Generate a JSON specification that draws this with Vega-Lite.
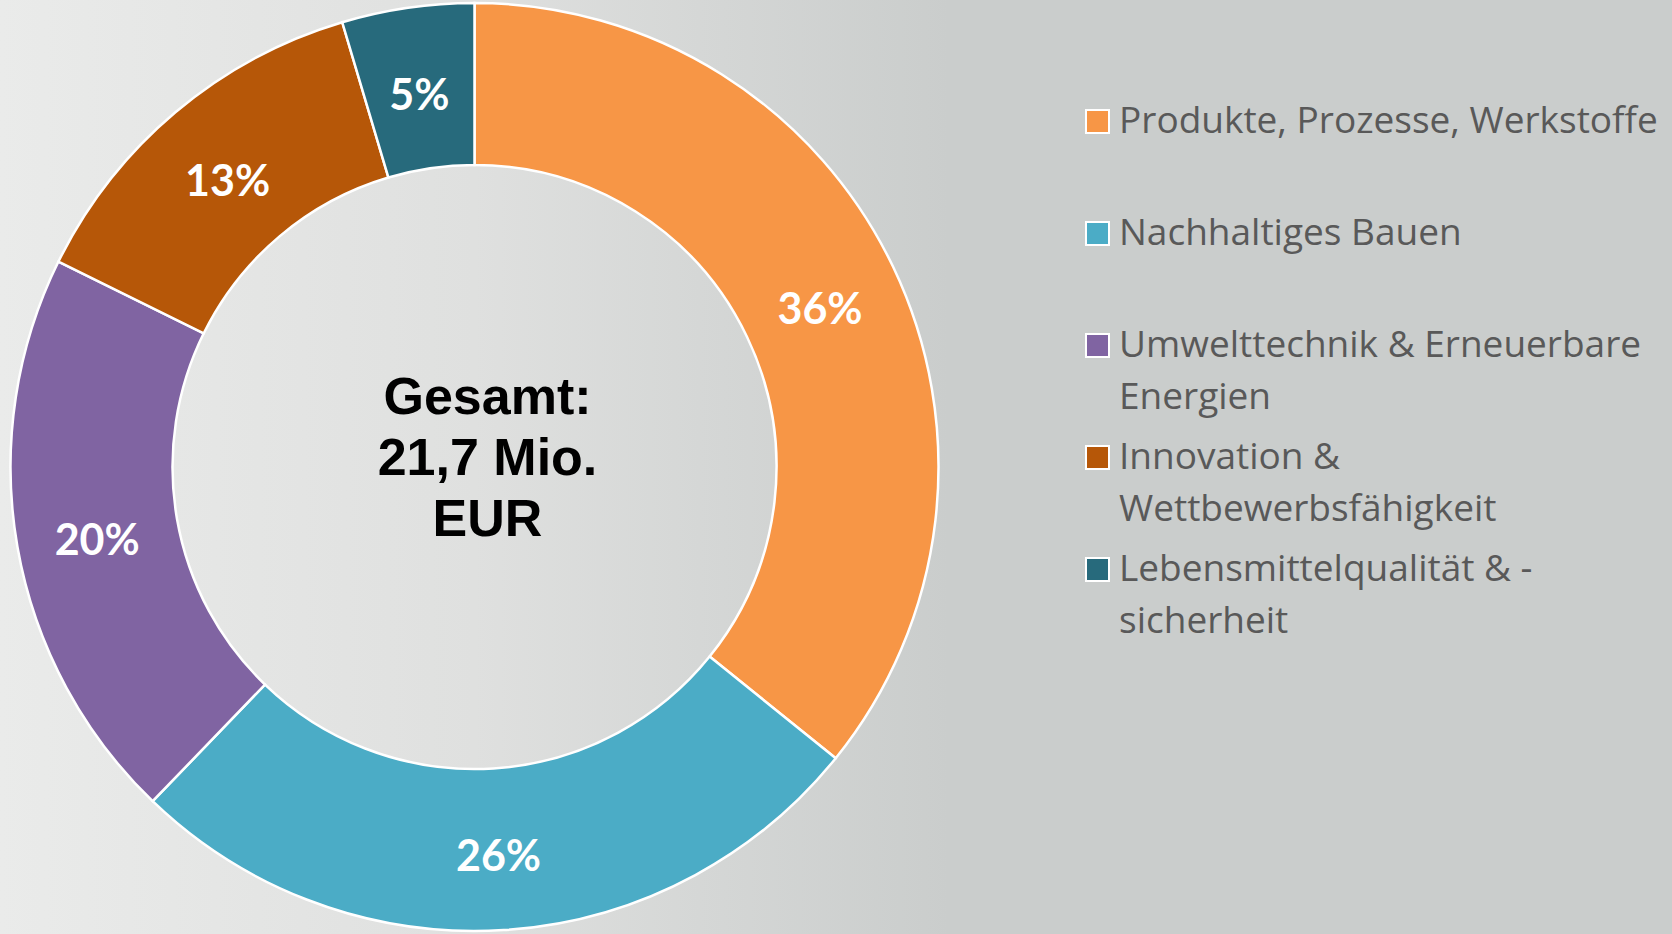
{
  "$schema": "https://vega.github.io/schema/vega-lite/v6.json",
  "width": 949,
  "height": 934,
  "autosize": {"type": "none"},
  "padding": {"left": 0, "top": 0, "right": 723, "bottom": 0},
  "background": "#cacdcc",
  "config": {
    "view": {"stroke": null},
    "style": {"guide-label": {"lineHeight": 52}}
  },
  "data": {
    "values": [
      {"cat": "Produkte, Prozesse, Werkstoffe| ", "o": 1, "v": 35.8, "pct": "36%"},
      {"cat": "Nachhaltiges Bauen| ", "o": 2, "v": 26.4, "pct": "26%"},
      {"cat": "Umwelttechnik & Erneuerbare|Energien", "o": 3, "v": 20.1, "pct": "20%"},
      {"cat": "Innovation &|Wettbewerbsfähigkeit", "o": 4, "v": 13.1, "pct": "13%"},
      {"cat": "Lebensmittelqualität & -|sicherheit", "o": 5, "v": 4.6, "pct": "5%"}
    ]
  },
  "layer": [
    {
      "data": {"values": [{"bg": 1}]},
      "mark": {
        "type": "rect",
        "color": {
          "gradient": "linear",
          "x1": 0, "y1": 0, "x2": 1, "y2": 0,
          "stops": [
            {"offset": 0, "color": "#eaebea"},
            {"offset": 0.5, "color": "#dfe0df"},
            {"offset": 1, "color": "#cacdcc"}
          ]
        }
      },
      "encoding": {}
    },
    {
      "mark": {"type": "arc", "innerRadius": 302, "outerRadius": 464, "stroke": "white", "strokeWidth": 2.5},
      "encoding": {
        "theta": {"field": "v", "type": "quantitative", "stack": true},
        "order": {"field": "o", "type": "quantitative"},
        "color": {
          "field": "cat",
          "type": "nominal",
          "scale": {
            "domain": [
              "Produkte, Prozesse, Werkstoffe| ",
              "Nachhaltiges Bauen| ",
              "Umwelttechnik & Erneuerbare|Energien",
              "Innovation &|Wettbewerbsfähigkeit",
              "Lebensmittelqualität & -|sicherheit"
            ],
            "range": ["#F79646", "#4BACC6", "#8064A2", "#B65708", "#276A7C"]
          },
          "legend": {
            "orient": "none",
            "direction": "vertical",
            "legendX": 1079,
            "legendY": 103,
            "title": null,
            "padding": 0,
            "symbolType": "square",
            "symbolSize": 529,
            "symbolStrokeColor": "white",
            "symbolStrokeWidth": 2,
            "symbolOpacity": 1,
            "labelFont": "Open Sans",
            "labelFontSize": 37,
            "labelColor": "#595959",
            "labelLimit": 1000,
            "labelBaseline": "middle",
            "labelOffset": 3,
            "rowPadding": 22,
            "labelExpr": "split(datum.label, '|')"
          }
        }
      }
    },
    {
      "mark": {"type": "text", "radius": 383, "dy": 9, "font": "Lato", "fontWeight": "bold", "fontSize": 43, "color": "white", "align": "center", "baseline": "middle"},
      "encoding": {
        "theta": {"field": "v", "type": "quantitative", "stack": true},
        "order": {"field": "o", "type": "quantitative"},
        "text": {"field": "pct", "type": "nominal"}
      }
    },
    {
      "data": {"values": [{"t": "Gesamt:|21,7 Mio.|EUR"}]},
      "mark": {"type": "text", "font": "Liberation Sans", "fontWeight": "bold", "fontSize": 52, "color": "black", "align": "center", "baseline": "middle", "lineBreak": "|", "lineHeight": 61, "dx": 13, "dy": -69},
      "encoding": {
        "text": {"field": "t", "type": "nominal"}
      }
    }
  ]
}
